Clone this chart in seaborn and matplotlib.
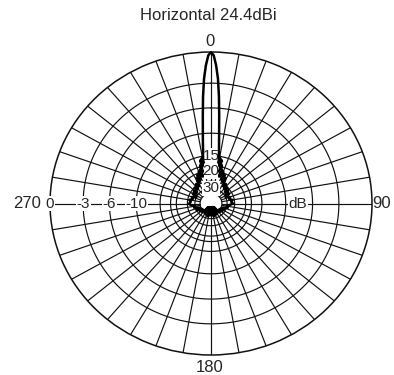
import numpy as np
import pandas as pd
import matplotlib
matplotlib.use("Agg")
import matplotlib.pyplot as plt
import seaborn as sns

# Horizontal radiation pattern, gain relative to peak (dB), azimuth in degrees
angles_deg = [0, 1, 2, 3, 4, 5, 6, 7, 8, 9, 10, 11, 12, 13, 14, 15, 16, 17, 18, 20,
              22, 24, 26, 28, 30, 33, 36, 40, 44, 48, 52, 56, 60, 65, 70, 75, 80, 85,
              90, 95, 100, 105, 110, 115, 120, 125, 130, 135, 140, 142.5, 145, 147.5,
              150, 152.5, 155, 157.5, 160, 162.5, 165, 167.5, 170, 172.5, 175, 177.5,
              180, 182.5, 185, 187.5, 190, 192.5, 195, 197.5, 200, 202.5, 205, 207.5,
              210, 212.5, 215, 217.5, 220, 225, 230, 235, 240, 245, 250, 255, 260,
              265, 270, 275, 280, 285, 290, 295, 300, 304, 308, 312, 316, 320, 324,
              327, 330, 332, 334, 336, 338, 340, 342, 343, 344, 345, 346, 347, 348,
              349, 350, 351, 352, 353, 354, 355, 356, 357, 358, 359, 360]
gain_db = [0, -0.3, -1.2, -2.5, -4.5, -7, -9.5, -11.5, -13.5, -15, -17, -15.5, -18,
           -16, -20, -17.5, -22, -19, -21, -19.5, -23, -20.5, -24, -21.5, -23, -26,
           -24, -27, -25, -28, -26, -29, -26.5, -30, -27, -28, -26, -27, -26, -28,
           -30, -29, -33, -31, -35, -32, -36, -33, -37, -45, -34, -46, -36, -47,
           -33, -48, -35, -47, -32, -48, -34, -47, -33, -48, -34, -48, -33, -47,
           -35, -48, -32, -47, -34, -46, -33, -47, -35, -45, -34, -44, -36, -33,
           -36, -32, -35, -30, -33, -29, -30, -27, -26, -27, -26, -28, -27, -30,
           -26.5, -29, -26, -28, -25, -27, -24, -26, -23, -21.5, -24, -20.5, -23,
           -19.5, -21, -19, -22, -17.5, -20, -16, -18, -15.5, -17, -15, -13.5,
           -11.5, -9.5, -7, -4.5, -2.5, -1.2, -0.3, 0]

# Grid rings and labelled levels (dB)
ring_db = [0, -3, -6, -10, -15, -18, -20, -25, -30, -35]
left_labels = ["0", "-3", "-6", "-10"]
left_label_db = [0, -3, -6, -10]
top_labels = ["15", "20", "30"]
top_label_db = [-15, -20, -30]
azimuth_labels = ["0", "90", "180", "270"]
title = "Horizontal 24.4dBi"


def to_r(db):
    return 10 ** (np.asarray(db, dtype=float) / 30.0)


sns.set_theme(style="white")
plt.rcParams["font.family"] = ["Liberation Sans", "DejaVu Sans"]

W, H = 394, 375
fig = plt.figure(figsize=(W / 100, H / 100), dpi=100)
fig.patch.set_facecolor("white")

ax = fig.add_axes([50 / W, 20 / H, 322 / W, 303 / H], projection="polar")
ax.set_aspect("auto")
ax.set_theta_zero_location("N")
ax.set_theta_direction(-1)
ax.set_ylim(0, 1)
ax.grid(False)
ax.set_xticks([])
ax.set_yticks([])
ax.spines["polar"].set_linewidth(1.1)
ax.spines["polar"].set_color("#111111")

grid_kw = dict(color="#111111", lw=0.85, zorder=1)
tt = np.linspace(0, 2 * np.pi, 361)
for r in to_r(ring_db[1:]):
    ax.plot(tt, np.full_like(tt, r), **grid_kw)
r_in = to_r(ring_db[-1])
for a in np.deg2rad(np.arange(0, 360, 10)):
    ax.plot([a, a], [r_in, 1], **grid_kw)

# Level labels sitting on the grid lines
lab_kw = dict(ha="center", va="center", fontsize=11, zorder=3,
              bbox=dict(fc="white", ec="none", pad=0.6))
for txt, db in zip(left_labels, left_label_db):
    ax.text(np.deg2rad(270), to_r(db), txt, **lab_kw)
for txt, db in zip(top_labels, top_label_db):
    ax.text(0, to_r(db), txt, **lab_kw)
ax.text(np.deg2rad(90), 0.54, "dB", **lab_kw)

df = pd.DataFrame({"theta": np.deg2rad(angles_deg), "r": to_r(gain_db)})
sns.lineplot(data=df, x="theta", y="r", sort=False, estimator=None,
             color="black", lw=1.8, ax=ax, zorder=4)
ax.set_xlabel("")
ax.set_ylabel("")
ax.set_ylim(0, 1)

# Azimuth labels around the chart
fs = 12
fig.text(210 / W, 1 - 42 / H, azimuth_labels[0], ha="center", va="center", fontsize=fs)
fig.text(382 / W, 1 - 203 / H, azimuth_labels[1], ha="center", va="center", fontsize=fs)
fig.text(210 / W, 1 - 367 / H, azimuth_labels[2], ha="center", va="center", fontsize=fs)
fig.text(27 / W, 1 - 203 / H, azimuth_labels[3], ha="center", va="center", fontsize=fs)
fig.text(208 / W, 1 - 16 / H, title, ha="center", va="center", fontsize=fs)

fig.savefig("out.png", dpi=100, facecolor="white")
